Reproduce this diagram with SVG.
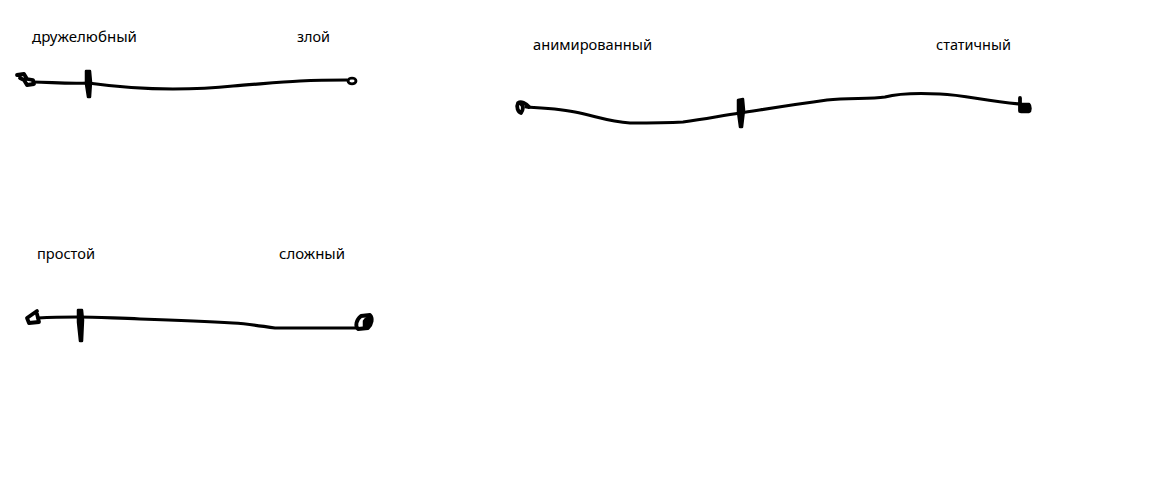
<svg xmlns="http://www.w3.org/2000/svg" width="1160" height="503" viewBox="0 0 1160 503">
<style>
.t{font-family:"Noto Sans","Open Sans","DejaVu Sans",sans-serif;font-size:14px;fill:#000}
.s{fill:none;stroke:#000;stroke-width:3.2;stroke-linecap:round;stroke-linejoin:round}
.b{fill:none;stroke:#000;stroke-width:3.8;stroke-linecap:round;stroke-linejoin:round}
.f{fill:#000;stroke:#000;stroke-width:2.5;stroke-linejoin:round}
</style>
<rect width="1160" height="503" fill="#fff"/>
<g id="scale1">
<text class="t" x="32" y="42" textLength="105" lengthAdjust="spacingAndGlyphs">дружелюбный</text>
<text class="t" x="297" y="42" textLength="33" lengthAdjust="spacingAndGlyphs">злой</text>
<path class="s" d="M33,82 C50,82 65,84 88,83 C110,86 140,89 173,89 C200,89 215,88 233,86 C260,84 280,82 300,81 C320,80 335,80 347,80"/>
<path class="b" d="M17,75 L24,74 L27,79 L33,80 L34,84 L27,85 L24,80 L20,78"/>
<path class="f" d="M86,71 L90,71 L91,82 L90,97 L88,97 L86,84 Z"/>
<ellipse cx="352" cy="81" rx="4" ry="2.8" fill="none" stroke="#000" stroke-width="2.8"/>
</g>
<g id="scale2">
<text class="t" x="533" y="50" textLength="119" lengthAdjust="spacingAndGlyphs">анимированный</text>
<text class="t" x="936" y="50" textLength="75" lengthAdjust="spacingAndGlyphs">статичный</text>
<path class="s" d="M526,107 C545,108 560,109 575,112 C595,116 610,122 630,123 C650,123 665,123 683,122 C705,119 720,116 740,113 C760,110 790,105 827,100 C850,98 870,99 885,97 C900,93 920,93 940,94 C965,95 985,101 1020,104"/>
<path class="b" d="M529,107 C526,103 521,101 518,103 C516,107 518,112 521,113 C523,110 524,106 521,104"/>
<path class="f" d="M738,100 L743,99 L744,110 L742,127 L740,127 L738,112 Z"/>
<path class="b" d="M1020,98 L1020,111"/>
<path class="f" d="M1021,104 L1029,104 C1031,106 1031,111 1029,112 L1021,112 Z"/>
</g>
<g id="scale3">
<text class="t" x="37" y="259" textLength="58" lengthAdjust="spacingAndGlyphs">простой</text>
<text class="t" x="279" y="259" textLength="66" lengthAdjust="spacingAndGlyphs">сложный</text>
<path class="s" d="M38,318 C55,317 65,317 78,317 C95,317 110,318 140,319 C170,320 200,321 233,323 C250,324 260,326 275,328 L357,328"/>
<path class="b" d="M37,311 L27,318 L29,323 L39,322 L37,314"/>
<path class="f" d="M78,310 L82,310 L83,320 L82,341 L80,341 L78,322 Z"/>
<path class="b" d="M361,316 L370,315 C373,318 372,324 368,328 L358,329 C355,326 356,320 361,316 Z"/>
<path class="f" d="M364,321 C366,317 371,316 371,319 C370,324 367,327 364,327 Z"/>
</g>
</svg>
